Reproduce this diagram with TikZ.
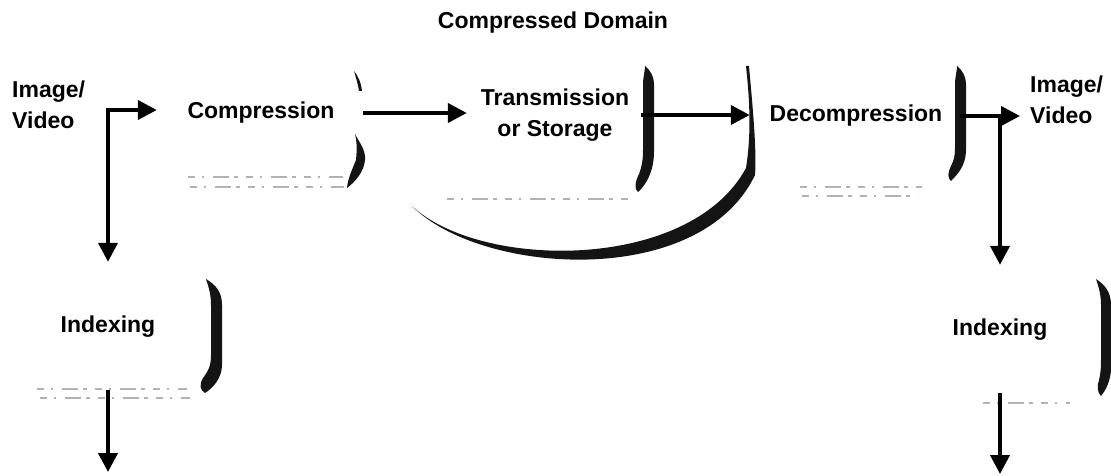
\documentclass[tikz,border=0pt]{standalone}
\usepackage{fontspec}
\setmainfont{Liberation Sans}
\usetikzlibrary{arrows.meta}
\begin{document}
\begin{tikzpicture}[x=1pt,y=-1pt,
  lbl/.style={font=\fontsize{23}{31}\selectfont\bfseries, inner sep=0pt, align=center},
  blk/.style={lbl, minimum width=#1},
  arr/.style={line width=4pt, line cap=rect, -{Triangle[length=19pt,width=19pt]}},
  shade/.style={fill=black!92, draw=none},
  faint/.style={draw=black!30, line width=1.1pt, dash pattern=on 7pt off 7pt on 2pt off 9pt on 16pt off 5pt on 4pt off 8pt}]
\useasboundingbox (0,0) rectangle (1111,476);

% labels and (borderless) blocks
\node[lbl] (dom) at (553,23) {Compressed Domain};
\node[lbl, anchor=west, align=left] (inL) at (12,105) {Image/\\Video};
\node[blk=208] (comp) at (261,113) {Compression};
\node[blk=176] (trans) at (555,115) {Transmission\\or Storage};
\node[blk=212] (decomp) at (856,116) {Decompression};
\node[lbl, anchor=west, align=left, inner xsep=10pt] (outR) at (1020,100) {Image/\\Video};
\node[lbl, minimum height=130] (idxL) at (108,327) {Indexing};
\node[lbl, minimum height=130] (idxR) at (1000,330) {Indexing};

\coordinate (splitL) at (108,110);
\coordinate (splitR) at (decomp.east -| idxR.north);
\coordinate (endL) at (108,472);
\coordinate (endR) at (1000,474);

% shadow edges of the blocks
\path[shade] (354,71) .. controls (358,76) and (361,82) .. (362,91)
  -- (359,91) .. controls (358,84) and (356,78) .. (354,71) -- cycle;
\path[shade] (355,134) .. controls (359,142) and (366,150) .. (365,160)
  .. controls (364,172) and (355,182) .. (347,188)
  .. controls (348,178) and (352,170) .. (356,160)
  .. controls (357,150) and (357,142) .. (355,134) -- cycle;
\path[shade] (645,66) .. controls (650,70) and (654,76) .. (654,85) -- (654,152)
  .. controls (654,170) and (647,184) .. (638,192)
  .. controls (634,189) and (635,182) .. (639,174)
  .. controls (642,166) and (643,160) .. (643,150) -- (643,85)
  .. controls (643,76) and (645,72) .. (645,66) -- cycle;
\path[shade] (957,66) .. controls (962,70) and (966,76) .. (966,85) -- (966,150)
  .. controls (966,165) and (958,174) .. (951,181)
  .. controls (947,178) and (948,172) .. (951,166)
  .. controls (954,160) and (955,156) .. (955,148) -- (955,85)
  .. controls (955,76) and (957,72) .. (957,66) -- cycle;
\path[shade] (412,206) .. controls (480,275) and (700,290) .. (755,175)
  .. controls (757,150) and (752,100) .. (749,66)
  -- (746,66) .. controls (749,95) and (752,130) .. (746,168)
  .. controls (690,272) and (480,270) .. (412,206) -- cycle;
\path[shade] (206,279) .. controls (216,285) and (222,292) .. (222,305) -- (222,365)
  .. controls (222,378) and (213,388) .. (205,393)
  .. controls (200,390) and (199,385) .. (203,378)
  .. controls (209,370) and (211,365) .. (211,355) -- (211,305)
  .. controls (211,295) and (209,288) .. (206,279) -- cycle;
\path[shade] (1096,279) .. controls (1105,285) and (1111,292) .. (1111,305) -- (1111,368)
  .. controls (1111,380) and (1106,390) .. (1101,396)
  .. controls (1097,392) and (1097,386) .. (1099,380)
  .. controls (1101,372) and (1101,366) .. (1101,356) -- (1101,305)
  .. controls (1101,295) and (1099,288) .. (1096,279) -- cycle;

% faded lower edges of the blocks
\draw[faint] (188,177) -- (343,177);
\draw[faint] (190,187) -- (344,187);
\draw[faint] (447,199) -- (630,199);
\draw[faint] (800,187) -- (922,187);
\draw[faint] (802,196) -- (918,196);
\draw[faint] (37,389) -- (187,389);
\draw[faint] (40,398) -- (190,398);
\draw[faint] (983,403) -- (1070,403);

% flow
\draw[arr] (splitL) -- (splitL -| comp.west);
\draw[arr] (splitL) -- (idxL.north);
\draw[arr] (comp.east) -- (comp.east -| trans.west);
\draw[arr] (trans.east) -- (trans.east -| decomp.west);
\draw[arr] (decomp.east) -- (decomp.east -| outR.west);
\draw[arr] (splitR) -- (idxR.north);
\draw[arr] (idxL.south) -- (endL);
\draw[arr] (idxR.south) -- (endR);
\end{tikzpicture}
\end{document}
